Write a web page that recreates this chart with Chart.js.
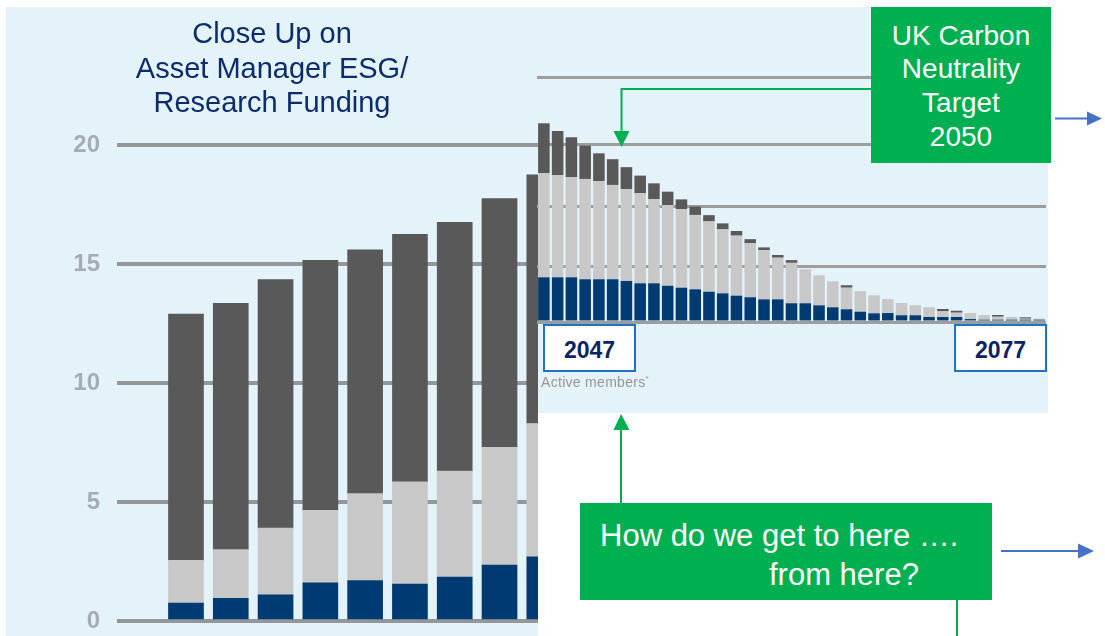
<!DOCTYPE html>
<html>
<head>
<meta charset="utf-8">
<title>Close Up on Asset Manager ESG/Research Funding</title>
<script src="https://cdn.jsdelivr.net/npm/chart.js@4.4.1/dist/chart.umd.min.js"></script>
<style>
  html, body { margin: 0; padding: 0; }
  body { width: 1105px; height: 636px; position: relative; overflow: hidden; background: #fff;
         font-family: "Liberation Sans", Arial, sans-serif; }
  .abs { position: absolute; }
  .panel { background: #e4f2fa; }
  #leftPanel { left: 6px; top: 7px; width: 532px; height: 629px; }
  #insetPanel { left: 538px; top: 7px; width: 510px; height: 406px; }
  #leftWrap { left: 0; top: 0; width: 538px; height: 636px; overflow: hidden; }
  #insetWrap { left: 537px; top: 0; width: 509px; height: 413px; }
  #title { left: 6px; top: 16px; width: 532px; text-align: center; color: #0c2c6b;
           font-size: 29px; line-height: 34.5px; }
  .green { background: #00b050; color: #fff; }
  #target { left: 871px; top: 7px; width: 180px; height: 156px; text-align: center;
            font-size: 28px; line-height: 33.7px; padding-top: 11.5px; box-sizing: border-box; }
  #question { left: 580px; top: 503px; width: 412px; height: 97px; }
  .qline { position: absolute; font-size: 31px; line-height: 31px; white-space: nowrap; }
  .yearBox { top: 324px; width: 93px; height: 48px; border: 2px solid #1f72c4; background: #fff;
             box-sizing: border-box; color: #0c2466; font-weight: bold; font-size: 23px;
             text-align: center; line-height: 48px; }
  #members { left: 541px; top: 372px; font-size: 14px; line-height: 14px; letter-spacing: 0.3px;
             color: #9a968f; white-space: nowrap; }
  #members sup { font-size: 8px; }
  svg { position: absolute; left: 0; top: 0; }
</style>
</head>
<body>
<div class="abs panel" id="leftPanel"></div>
<div class="abs" id="leftWrap"><canvas id="leftChart" width="620" height="636"></canvas></div>
<div class="abs panel" id="insetPanel"></div>
<div class="abs" id="insetWrap"><canvas id="insetChart" width="509" height="413"></canvas></div>

<div class="abs" id="title">Close Up on<br>Asset Manager ESG/<br>Research Funding</div>

<div class="abs yearBox" style="left:543px">2047</div>
<div class="abs yearBox" style="left:954px">2077</div>
<div class="abs" id="members">Active members<sup>*</sup></div>

<div class="abs green" id="target">UK Carbon<br>Neutrality<br>Target<br>2050</div>
<div class="abs green" id="question">
  <div class="qline" style="left:20px; top:17px">How do we get to here ….</div>
  <div class="qline" style="left:189px; top:56px">from here?</div>
</div>

<svg width="1105" height="636">
  <!-- target box pointer -->
  <polyline points="871,89 621.5,89 621.5,133" fill="none" stroke="#00b050" stroke-width="2"/>
  <polygon points="613.5,131 629.5,131 621.5,147" fill="#00b050"/>
  <line x1="1055" y1="118.5" x2="1088" y2="118.5" stroke="#4472c4" stroke-width="2"/>
  <polygon points="1087,111.5 1102,118.5 1087,125.5" fill="#4472c4"/>
  <!-- question box pointers -->
  <line x1="621" y1="503" x2="621" y2="428" stroke="#00b050" stroke-width="2"/>
  <polygon points="613.5,430 629.5,430 621,414" fill="#00b050"/>
  <line x1="1001" y1="551" x2="1079" y2="551" stroke="#4472c4" stroke-width="2"/>
  <polygon points="1078,543.5 1094,551 1078,558.5" fill="#4472c4"/>
  <line x1="957" y1="600" x2="957" y2="636" stroke="#00b050" stroke-width="2"/>
</svg>

<script>
// Close-up chart (left)
const leftYears = [2020, 2021, 2022, 2023, 2024, 2025, 2026, 2027, 2028];
const leftNavy  = [0.75, 0.95, 1.1, 1.6, 1.7, 1.55, 1.85, 2.35, 2.7];
const leftLight = [1.8, 2.05, 2.8, 3.05, 3.65, 4.3, 4.45, 4.95, 5.6];
const leftDark  = [10.35, 10.35, 10.45, 10.5, 10.25, 10.4, 10.45, 10.45, 10.45];
const leftTicks = [0, 5, 10, 15, 20];

// Long-run inset chart (right)
const insetYears = ['2047', '2048', '2049', '2050', '2051', '2052', '2053', '2054', '2055', '2056',
                    '2057', '2058', '2059', '2060', '2061', '2062', '2063', '2064', '2065', '2066',
                    '2067', '2068', '2069', '2070', '2071', '2072', '2073', '2074', '2075', '2076',
                    '2077', '2078', '2079', '2080', '2081', '2082', '2083'];
const insetNavy  = [3.65, 3.65, 3.65, 3.49, 3.49, 3.49, 3.35, 3.16, 3.16, 2.96,
                    2.80, 2.67, 2.47, 2.34, 2.15, 2.02, 1.85, 1.85, 1.53, 1.53,
                    1.36, 1.20, 1.04, 0.84, 0.71, 0.73, 0.55, 0.55, 0.41, 0.41,
                    0.41, 0.24, 0.19, 0.19, 0.19, 0.19, 0.19];
const insetLight = [8.49, 8.35, 8.16, 8.19, 8.02, 7.70, 7.49, 7.35, 6.88, 6.59,
                    6.42, 6.07, 5.74, 5.22, 4.90, 4.41, 4.02, 3.40, 3.30, 2.78,
                    2.45, 2.12, 1.76, 1.67, 1.47, 1.14, 1.00, 0.82, 0.79, 0.46,
                    0.35, 0.49, 0.38, 0.24, 0.22, 0.08, 0.08];
const insetDark  = [4.08, 3.59, 3.27, 2.72, 2.26, 2.10, 1.80, 1.44, 1.28, 1.09,
                    0.79, 0.68, 0.51, 0.49, 0.38, 0.33, 0.22, 0.22, 0.22, 0,
                    0, 0, 0.20, 0, 0, 0, 0, 0, 0, 0.19,
                    0.16, 0, 0, 0.14, 0, 0.11, 0];
const insetGrid  = [0, 4.5, 9.4, 14.45, 20];

const colours = { navy: '#003a73', light: '#c8c8c8', dark: '#595959' };

Chart.defaults.font.family = '"Liberation Sans", Arial, sans-serif';
Chart.defaults.animation = false;
Chart.defaults.plugins.legend.display = false;
Chart.defaults.plugins.tooltip.enabled = false;

const toPoints = vals => vals.map((v, i) => ({ x: leftYears[i], y: v }));

new Chart(document.getElementById('leftChart'), {
    type: 'bar',
    data: {
        datasets: [
            { label: 'Active', data: toPoints(leftNavy), backgroundColor: colours.navy },
            { label: 'Deferred', data: toPoints(leftLight), backgroundColor: colours.light },
            { label: 'Pensioner', data: toPoints(leftDark), backgroundColor: colours.dark }
        ]
    },
    options: {
        responsive: false,
        devicePixelRatio: 1,
        layout: { padding: { top: 145, bottom: 15, left: 0, right: 0 } },
        datasets: { bar: { barThickness: 35, borderWidth: 0 } },
        scales: {
            x: { type: 'linear', stacked: true, display: false, offset: false, min: 2018.46, max: 2029.69 },
            y: {
                stacked: true,
                min: 0,
                max: 20,
                afterBuildTicks: s => { s.ticks = leftTicks.map(v => ({ value: v })); },
                afterFit: s => { s.width = 117; },
                border: { display: false },
                // invisible tick marks keep the labels clear of the grid without extra vertical padding
                grid: { color: '#939799', lineWidth: 4, drawTicks: true, tickLength: 17, tickColor: 'rgba(0,0,0,0)' },
                ticks: { padding: 0, color: '#a4acb6', font: { size: 24, weight: 'bold' } }
            }
        }
    }
});

new Chart(document.getElementById('insetChart'), {
    type: 'bar',
    data: {
        labels: insetYears,
        datasets: [
            { label: 'Active', data: insetNavy, backgroundColor: colours.navy },
            { label: 'Deferred', data: insetLight, backgroundColor: colours.light },
            { label: 'Pensioner', data: insetDark, backgroundColor: colours.dark }
        ]
    },
    options: {
        responsive: false,
        devicePixelRatio: 1,
        layout: { padding: { top: 77, bottom: 91, left: 0, right: 0 } },
        datasets: { bar: { barPercentage: 0.84, categoryPercentage: 1, borderWidth: 0 } },
        scales: {
            x: { stacked: true, display: false },
            y: {
                stacked: true,
                min: 0,
                max: 20,
                afterBuildTicks: s => { s.ticks = insetGrid.map(v => ({ value: v })); },
                afterFit: s => { s.width = 0; },
                border: { display: false },
                grid: { color: '#9d9d9d', lineWidth: 3, drawTicks: false },
                ticks: { display: false }
            }
        }
    }
});
</script>
</body>
</html>
